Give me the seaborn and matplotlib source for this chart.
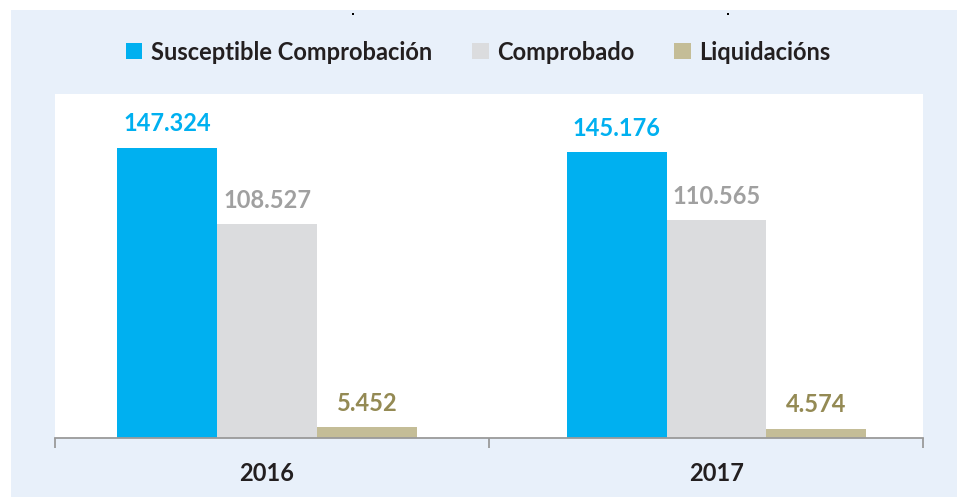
import pandas as pd
import matplotlib.pyplot as plt
import seaborn as sns
from matplotlib.patches import Rectangle, Patch

years = ["2016", "2017"]
series = ["Susceptible Comprobación", "Comprobado", "Liquidacións"]
susceptible = [147324, 145176]
comprobado = [108527, 110565]
liquidacions = [5452, 4574]

bar_colors = ["#00B0F0", "#DBDCDE", "#C4BD97"]
label_colors = ["#00B0F0", "#A0A0A0", "#948A54"]

df = pd.DataFrame({
    "Year": years * 3,
    "Serie": [s for s in series for _ in years],
    "Value": susceptible + comprobado + liquidacions,
})

sns.set_theme(style="white")
plt.rcParams["font.family"] = ["Lato", "DejaVu Sans"]

W, H = 957, 498
fig = plt.figure(figsize=(W / 100, H / 100), dpi=100)
fig.patch.set_facecolor("white")

# light blue panel behind everything
fig.patches.append(Rectangle((11 / W, 1 / H), (W - 11) / W, (497 - 10) / H,
                             transform=fig.transFigure, facecolor="#E8F0FA",
                             edgecolor="none", zorder=-2))
# small marks at the top
for mx in (352, 727):
    fig.patches.append(Rectangle((mx / W, 1 - 15 / H), 2 / W, 2 / H,
                                 transform=fig.transFigure, facecolor="black",
                                 edgecolor="none", zorder=-1))

ax = fig.add_axes([55 / W, 1 - 438 / H, (923 - 55) / W, (438 - 94) / H])
ax.set_facecolor("white")

sns.barplot(data=df, x="Year", y="Value", hue="Serie", hue_order=series,
            palette=bar_colors, width=0.667, saturation=1, linewidth=0,
            ax=ax, legend=False)

# category centres sit at 267px and 716px, group edges at 55/489/923px
step = 449.5
x0 = -(267 - 55) / step
x1 = 1 + (923 - 716.5) / step
ax.set_ylim(0, 174700)
ax.set_xlim(x0, x1)
ax.set_yticks([])
ax.set_ylabel("")
ax.set_xlabel("")
for s in ("top", "left", "right"):
    ax.spines[s].set_visible(False)
ax.spines["bottom"].set_color("#9A9A9A")
ax.spines["bottom"].set_linewidth(1.3)

ax.set_xticks([0, 1])
ax.set_xticklabels(years, fontsize=17, fontweight="bold", color="#231F20")
ax.tick_params(axis="x", which="major", length=0, pad=17)
ax.set_xticks([x0, (489 - 267) / step, x1], minor=True)
ax.tick_params(axis="x", which="minor", length=7, width=1.3, color="#9A9A9A",
               direction="out", bottom=True)

for container, vals, col in zip(ax.containers, [susceptible, comprobado, liquidacions], label_colors):
    labels = [f"{v:,}".replace(",", ".") for v in vals]
    ax.bar_label(container, labels=labels, padding=9, color=col,
                 fontsize=17, fontweight="bold")

handles = [Patch(facecolor=c, edgecolor="none") for c in bar_colors]
leg = fig.legend(handles, series, loc="center", bbox_to_anchor=(478 / W, 1 - 52 / H),
                 ncol=3, frameon=False, handlelength=0.7, handleheight=0.7,
                 handletextpad=0.35, columnspacing=1.7,
                 prop={"size": 17, "weight": "bold"})
for t in leg.get_texts():
    t.set_color("#231F20")

fig.savefig("out.png", dpi=100)
